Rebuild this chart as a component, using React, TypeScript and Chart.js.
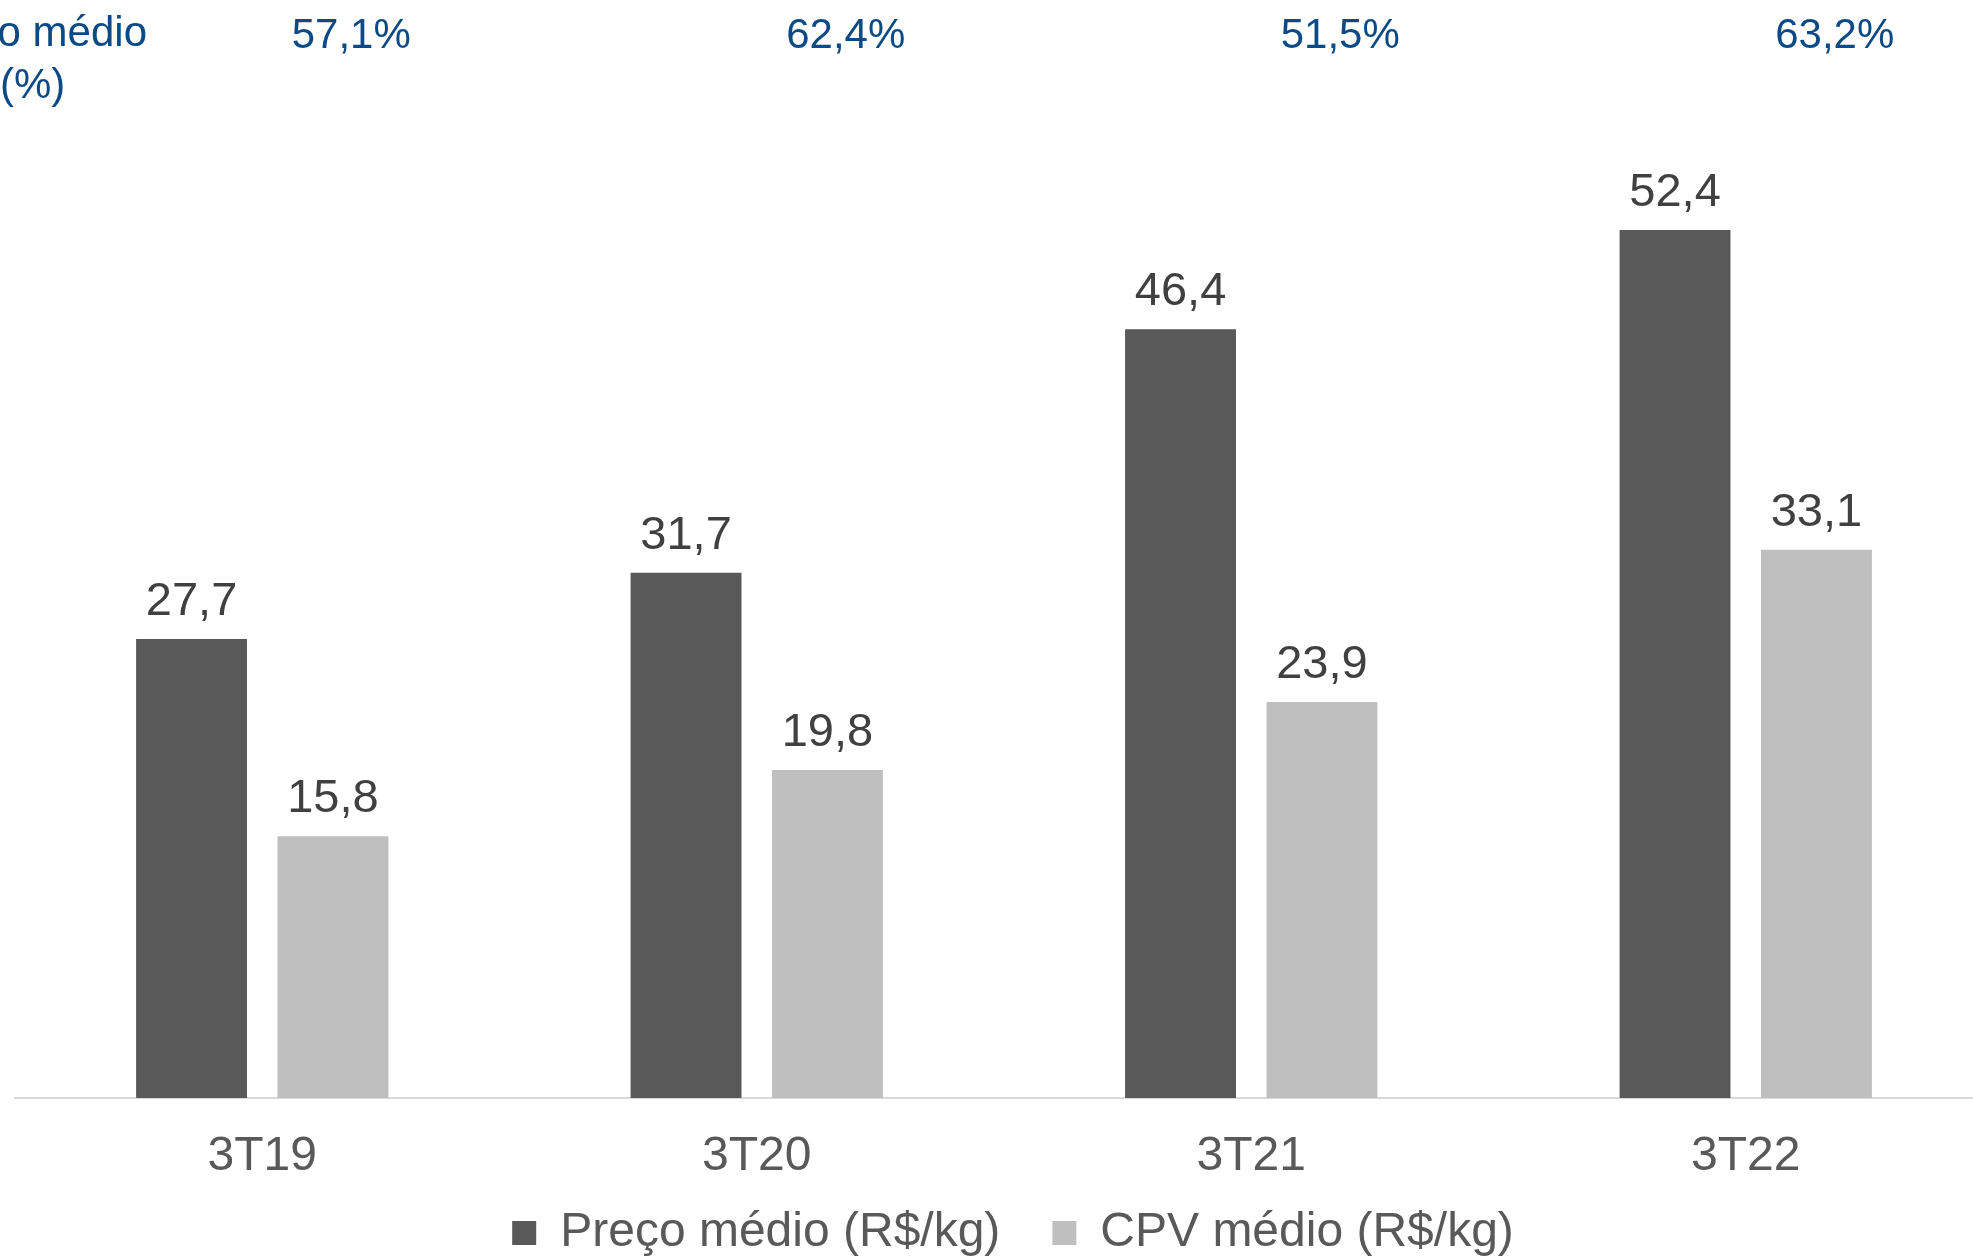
import React, { useEffect, useRef } from "react";
import { Chart, registerables } from "chart.js";

Chart.register(...registerables);

const categories = ["3T19", "3T20", "3T21", "3T22"];
const precoMedio = [27.7, 31.7, 46.4, 52.4];
const cpvMedio = [15.8, 19.8, 23.9, 33.1];
const cpvPrecoPct = [57.1, 62.4, 51.5, 63.2];
const seriesNames = ["Preço médio (R$/kg)", "CPV médio (R$/kg)"];
const sideTitle = ["CPV/Preço médio", "(%)"];

const FONT = "'Liberation Sans', Arial, sans-serif";
const fmt = (v: number, d = 1) => v.toFixed(d).replace(".", ",");

export default function App() {
  const ref = useRef<HTMLCanvasElement | null>(null);

  useEffect(() => {
    document.body.style.margin = "0";
    const canvas = ref.current!;
    const legendFitPlugin = {
      id: "legendFit",
      beforeInit(chart: any) {
        const orig = chart.legend.fit;
        chart.legend.fit = function fit() {
          orig.bind(chart.legend)();
          this.height = 74;
        };
      },
      afterLayout(chart: any) {
        const lg = chart.legend;
        if (lg) {
          lg.top -= 29;
          lg.left += 9;
          lg.right += 9;
        }
      },
    };
    const labelsPlugin = {
      id: "labels",
      afterDatasetsDraw(chart: any) {
        const ctx = chart.ctx;
        ctx.save();
        ctx.font = `47px ${FONT}`;
        ctx.fillStyle = "#404040";
        ctx.textAlign = "center";
        ctx.textBaseline = "alphabetic";
        chart.data.datasets.forEach((ds: any, di: number) => {
          const meta = chart.getDatasetMeta(di);
          meta.data.forEach((el: any, i: number) => {
            ctx.fillText(fmt(ds.data[i]), el.x, el.y - 24);
          });
        });
        // percentages
        ctx.font = `42px ${FONT}`;
        ctx.fillStyle = "#0B4A85";
        ctx.textBaseline = "middle";
        const xs = chart.scales.x;
        cpvPrecoPct.forEach((v, i) => {
          ctx.fillText(fmt(v) + "%", xs.getPixelForValue(i) + 89, 36);
        });
        ctx.textAlign = "right";
        ctx.fillText(sideTitle[0], 147, 34);
        ctx.textAlign = "left";
        ctx.fillText(sideTitle[1], 0, 86);
        ctx.restore();
      },
    };

    const chart = new Chart(canvas, {
      type: "bar",
      data: {
        labels: categories,
        datasets: [
          {
            label: seriesNames[0],
            data: precoMedio,
            backgroundColor: "#595959",
            categoryPercentage: 0.572,
            barPercentage: 0.784,
          },
          {
            label: seriesNames[1],
            data: cpvMedio,
            backgroundColor: "#BFBFBF",
            categoryPercentage: 0.572,
            barPercentage: 0.784,
          },
        ],
      },
      options: {
        responsive: false,
        animation: false,
        layout: { padding: { top: 104, left: 15, right: 7, bottom: 0 } },
        plugins: {
          tooltip: { enabled: false },
          legend: {
            position: "bottom",
            labels: {
              boxWidth: 24,
              boxHeight: 24,
              color: "#595959",
              font: { size: 48, family: FONT },
              padding: 52,
            },
          },
        },
        scales: {
          x: {
            grid: { display: false, drawTicks: false },
            border: { display: true, color: "#D9D9D9", width: 2 },
            ticks: {
              color: "#595959",
              font: { size: 48, family: FONT },
              padding: 30,
            },
            afterFit: (scale: any) => {
              scale.height = 88;
            },
          },
          y: {
            display: false,
            min: 0,
            max: 60,
          },
        },
      },
      plugins: [legendFitPlugin, labelsPlugin],
    });
    return () => chart.destroy();
  }, []);

  return (
    <div
      style={{
        position: "fixed",
        left: 0,
        top: 0,
        width: 1973,
        height: 1260,
        overflow: "hidden",
        background: "#fff",
      }}
    >
      <canvas ref={ref} width={2000} height={1260} style={{ display: "block" }} />
    </div>
  );
}
